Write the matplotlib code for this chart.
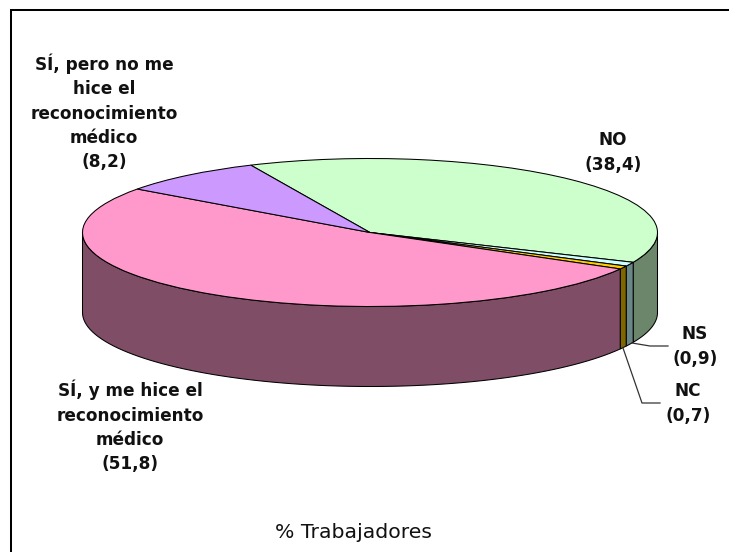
import numpy as np
import matplotlib
matplotlib.use('Agg')
import matplotlib.pyplot as plt
from matplotlib.lines import Line2D

W, H = 729, 552

# slices clockwise starting from the NO slice
labels = ['NO', 'NS', 'NC', 'Sí, y me hice', 'Sí, pero no']
values = [38.4, 0.9, 0.7, 51.8, 8.2]
top_colors = ['#ccffcc', '#ccffff', '#ffcc00', '#ff99cc', '#cc99ff']
side_colors = ['#6b866b', '#6b8686', '#806600', '#804d66', '#664d80']
start_angle = 114.5

# pie geometry in pixels of the image
cx, cy, rx, ry, depth = 370, 232.5, 287.5, 74, 80

# the y axis is stretched so the round pie comes out as a flat ellipse
k = rx / ry

fig = plt.figure(figsize=(W / 100, H / 100), dpi=100)
ax = fig.add_axes([0, 0, 1, 1])

wedges, _ = ax.pie(values, colors=top_colors, startangle=start_angle, counterclock=False,
                   radius=rx, center=(cx, (H - cy) * k),
                   wedgeprops={'edgecolor': 'black', 'linewidth': 0.75, 'zorder': 3})
ax.set_aspect('auto')
ax.set_xlim(0, W)
ax.set_ylim(0, H * k)
ax.set_frame_on(False)
ax.set_xticks([])
ax.set_yticks([])


def side(a0, a1, color):
    # front wall between two angles, only the part facing the viewer
    lo, hi = max(a0, 180), min(a1, 360)
    if lo >= hi:
        return
    t = np.radians(np.linspace(lo, hi, 80))
    xs = cx + rx * np.cos(t)
    ys = (H - cy) * k + rx * np.sin(t)
    low = ys - depth * k
    ax.fill(np.r_[xs, xs[::-1]], np.r_[ys, low[::-1]], facecolor=color,
            edgecolor='black', linewidth=0.75, zorder=2)


a = start_angle
for v, c in zip(values, side_colors):
    a_next = a - v * 3.6
    side(a_next % 360, (a_next % 360) + v * 3.6, c)
    side(a_next % 360 - 360, (a_next % 360) - 360 + v * 3.6, c)
    a = a_next


def px(x, y):
    return x, (H - y) * k


# leader lines for the two small slices
ax.plot(*zip(px(632, 343), px(650, 346), px(668, 346)), color='#333333', lw=0.9, zorder=4)
ax.plot(*zip(px(623, 348), px(642, 403), px(660, 403)), color='#333333', lw=0.9, zorder=4)

bold = {'fontweight': 'bold', 'ha': 'center', 'va': 'center', 'fontsize': 12.2,
        'family': 'DejaVu Sans', 'linespacing': 1.45, 'color': '#111111'}
ax.text(*px(104, 112.5), 'SÍ, pero no me\nhice el\nreconocimiento\nmédico\n(8,2)', **bold)
ax.text(*px(613, 152.5), 'NO\n(38,4)', **bold)
ax.text(*px(695, 346.5), 'NS\n(0,9)', **bold)
ax.text(*px(688, 403.5), 'NC\n(0,7)', **bold)
ax.text(*px(130, 426.5), 'SÍ, y me hice el\nreconocimiento\nmédico\n(51,8)', **bold)
ax.text(*px(353, 532), '% Trabajadores', ha='center', va='center', fontsize=14.7, color='#111111')

# the chart frame only shows on the top and left edges
fig.add_artist(Line2D([11 / W, 11 / W, 1], [0, 1 - 10 / H, 1 - 10 / H], transform=fig.transFigure,
                      color='black', linewidth=1.45, solid_joinstyle='miter'))

fig.savefig('out.png', dpi=100, facecolor='white')
